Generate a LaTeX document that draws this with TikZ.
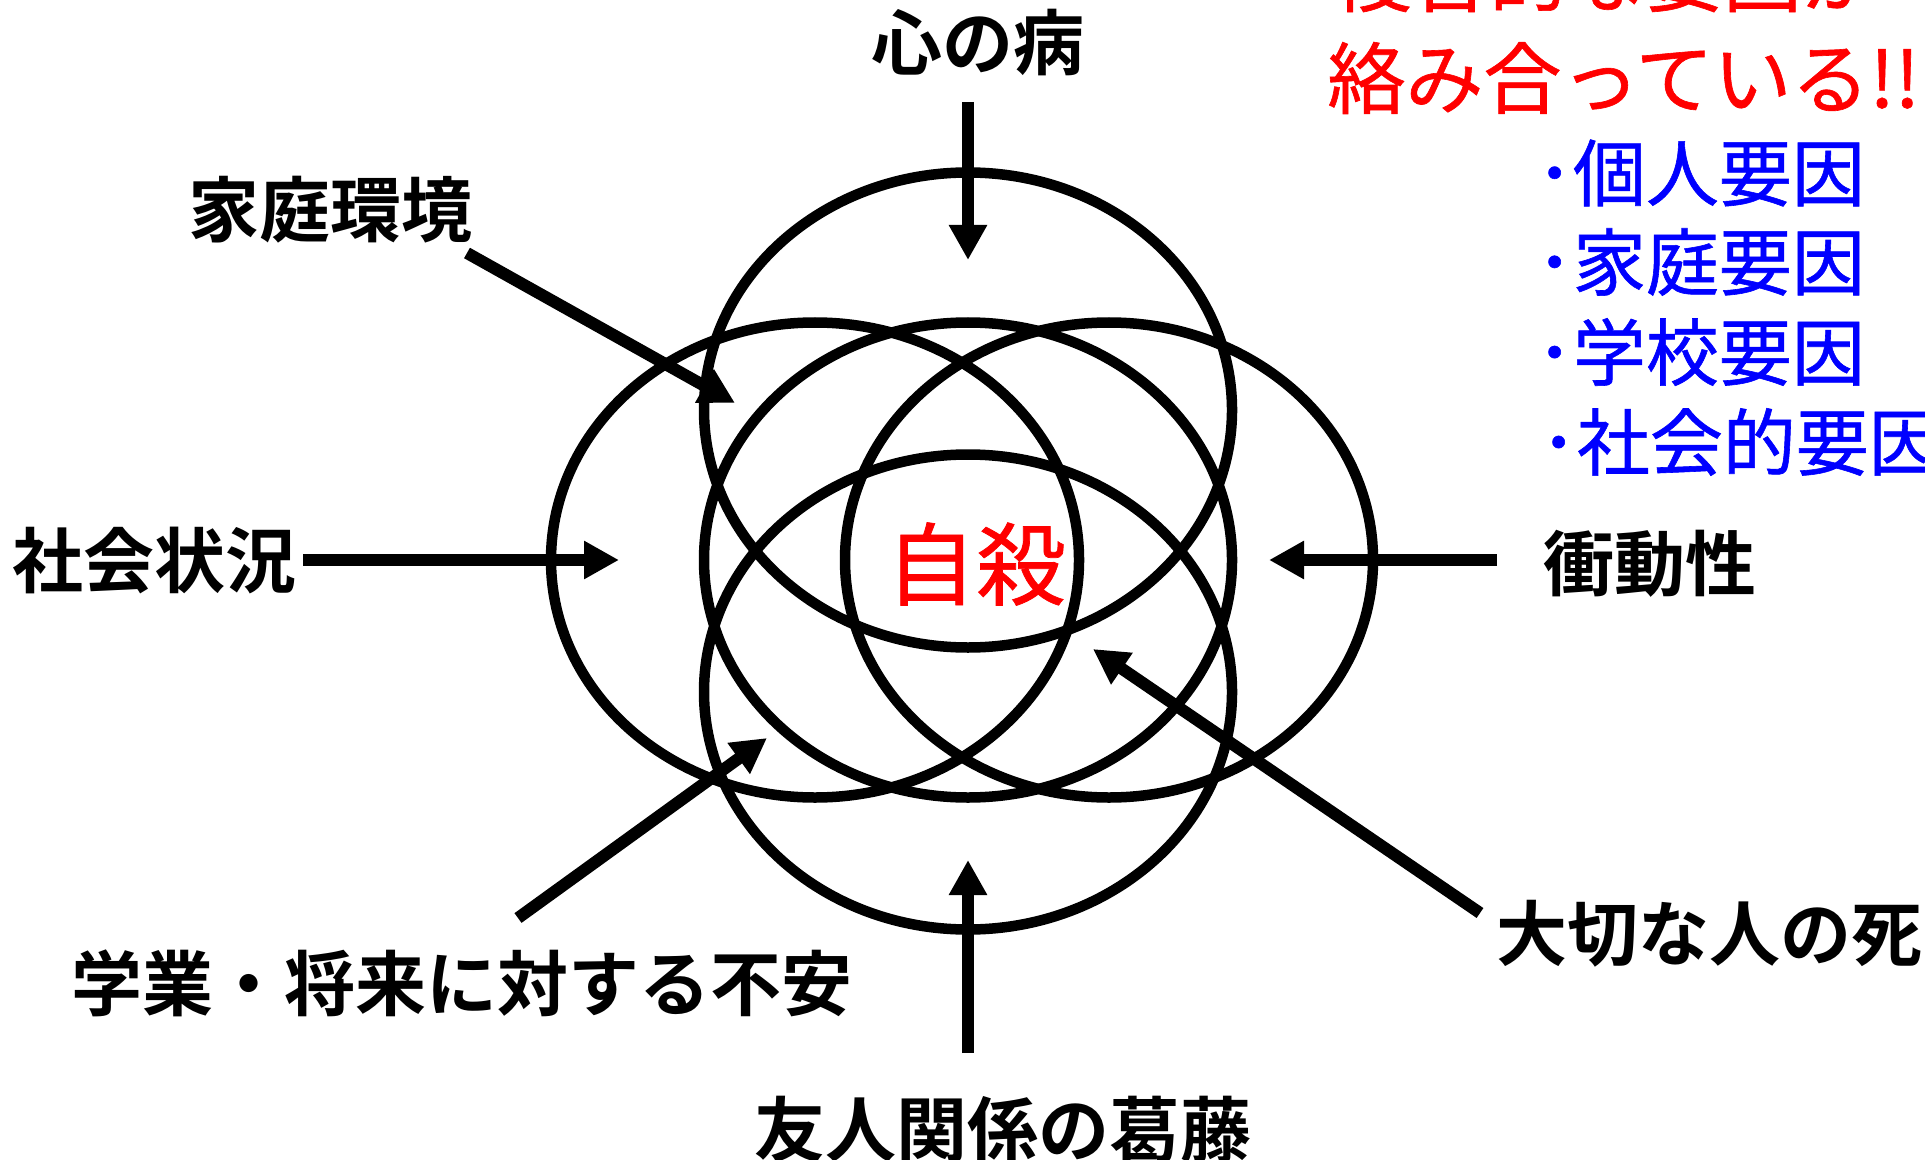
\documentclass[tikz,border=0pt]{standalone}
\usepackage{fontspec}
\setmainfont{Noto Sans CJK JP}[BoldFont={Noto Sans CJK JP Bold}]
\newfontface\medjp{Noto Sans CJK JP}[FakeBold=0.8]
\usepackage{tikz}
\usetikzlibrary{arrows.meta}
\usepackage{xcolor}
\definecolor{jsred}{RGB}{255,0,0}
\definecolor{jsblue}{RGB}{0,0,255}
\tikzstyle{arrow} = [line width=6pt,-{Triangle[length=17.5pt,width=18pt]}]
\tikzstyle{ring} = [line width=5.25pt]
\tikzstyle{factor} = [inner sep=0pt, font=\fontsize{35.5}{40}\selectfont\bfseries]
\tikzstyle{point} = [inner sep=0pt, anchor=west, text=jsblue, font=\fontsize{36.5}{40}\selectfont\medjp]

\begin{document}
\begin{tikzpicture}[x=0.5pt, y=-0.5pt]
\useasboundingbox (0,0) rectangle (1925,1160);
\clip (0,0) rectangle (1925,1160);

% Ellipses
\coordinate (Cl) at (815,560);
\coordinate (Cm) at (968,560);
\coordinate (Cr) at (1109,560);
\coordinate (Ct) at (968,410);
\coordinate (Cb) at (968,692);

\draw[ring] (Cl) ellipse [x radius=132pt, y radius=118.75pt];
\draw[ring] (Cm) ellipse [x radius=132pt, y radius=118.75pt];
\draw[ring] (Cr) ellipse [x radius=132pt, y radius=118.75pt];
\draw[ring] (Ct) ellipse [x radius=132pt, y radius=118.75pt];
\draw[ring] (Cb) ellipse [x radius=132pt, y radius=118.75pt];

% Centre
\node[inner sep=0pt, text=jsred, font=\fontsize{45}{50}\selectfont\medjp] (jisatsu) at (976,564) {自殺};

% Factors
\node[factor] (kokoro) at (978,43) {心の病};
\node[factor] (katei) at (330,210) {家庭環境};
\node[factor] (shakai) at (154,561) {社会状況};
\node[factor] (shodo) at (1650,564) {衝動性};
\node[factor] (gakugyo) at (462,983) {学業・将来に対する不安};
\node[factor] (yujin) at (1003,1130) {友人関係の葛藤};
\node[factor] (taisetsu) at (1709,934) {大切な人の死};

% Arrows
\coordinate (kokoro-s) at (968,102);   \coordinate (kokoro-t) at (968,260);
\coordinate (katei-s) at (467,253);    \coordinate (katei-t) at (735,403);
\coordinate (shakai-s) at (303,560);   \coordinate (shakai-t) at (619,560);
\coordinate (shodo-s) at (1497,560);   \coordinate (shodo-t) at (1269,560);
\coordinate (taisetsu-s) at (1480,913); \coordinate (taisetsu-t) at (1093,649);
\coordinate (gakugyo-s) at (518,918);  \coordinate (gakugyo-t) at (767,738);
\coordinate (yujin-s) at (968,1053);   \coordinate (yujin-t) at (968,860);

\draw[arrow] (kokoro-s) -- (kokoro-t);
\draw[arrow] (katei-s) -- (katei-t);
\draw[arrow] (shakai-s) -- (shakai-t);
\draw[arrow] (shodo-s) -- (shodo-t);
\draw[arrow] (taisetsu-s) -- (taisetsu-t);
\draw[arrow] (gakugyo-s) -- (gakugyo-t);
\draw[arrow] (yujin-s) -- (yujin-t);

% Message
\node[inner sep=0pt, anchor=west, text=jsred, font=\fontsize{39}{44}\selectfont\medjp] (msg1) at (1333,-24) {複合的な要因が};
\node[inner sep=0pt, anchor=west, text=jsred, font=\fontsize{39}{44}\selectfont\medjp] (msg2) at (1327,78) {絡み合っている!!};

\node[point] (kojin) at (1536,173) {･個人要因};
\node[point] (kateiyoin) at (1536,262) {･家庭要因};
\node[point] (gakko) at (1536,352) {･学校要因};
\node[point] (shakaiyoin) at (1540,442) {･社会的要因};
\end{tikzpicture}
\end{document}
